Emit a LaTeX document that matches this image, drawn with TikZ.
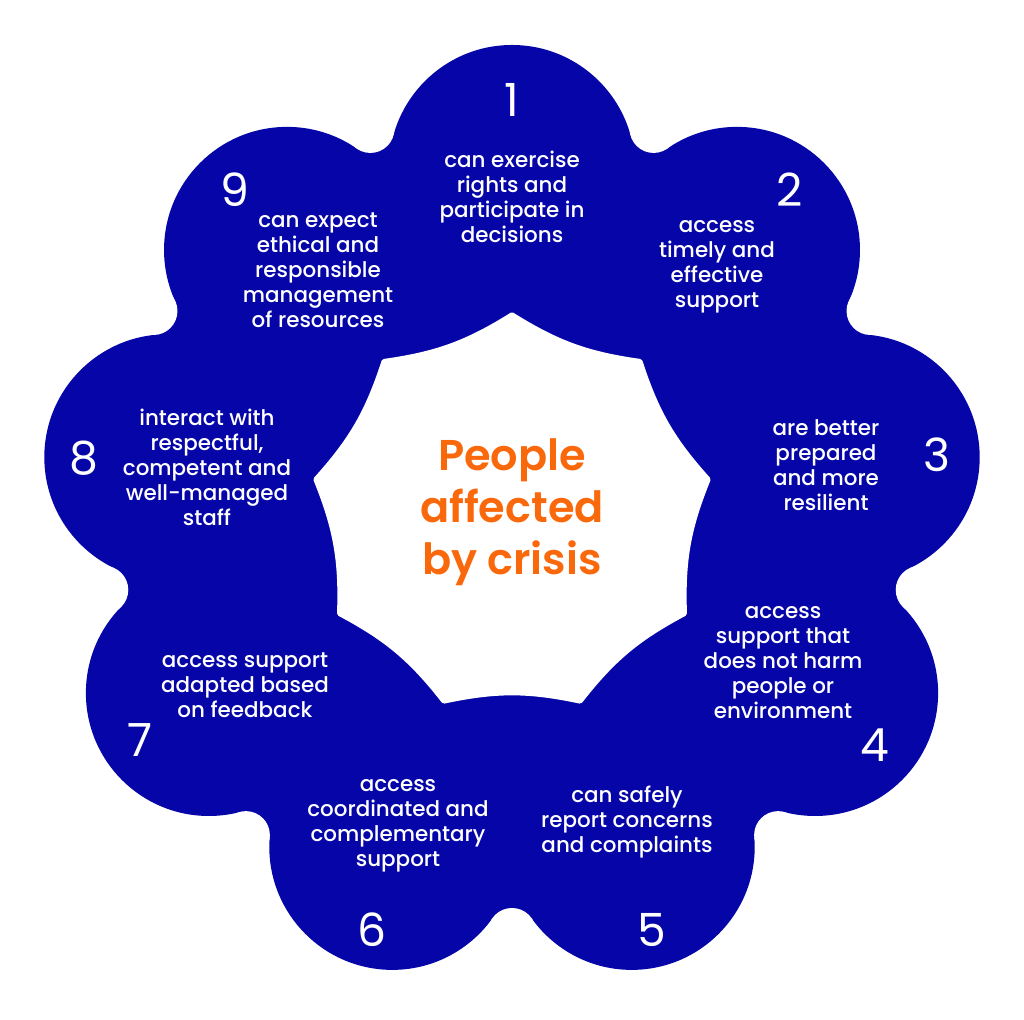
\documentclass[tikz,border=0pt]{standalone}
\usepackage{fontspec}
\setmainfont{Poppins}
\IfFontExistsTF{Poppins Medium}
  {\newfontfamily\petalfont{Poppins Medium}}
  {\newfontfamily\petalfont{Poppins}[FakeBold=0.4]}
\IfFontExistsTF{Poppins SemiBold}
  {\newfontfamily\centrefont{Poppins SemiBold}}
  {\newfontfamily\centrefont{Poppins Bold}}
\usetikzlibrary{positioning}
\definecolor{flowerblue}{RGB}{6,6,168}
\definecolor{crisisorange}{RGB}{250,104,12}

\begin{document}
\begin{tikzpicture}[x=0.02cm,y=0.02cm,
  petaltext/.style={align=center,text=white,inner sep=0,font=\petalfont\fontsize{12.2}{14.2}\selectfont},
  petalnum/.style={text=white,inner sep=0,font=\fontsize{26}{26}\selectfont},
  centertext/.style={align=center,text=crisisorange,inner sep=0,font=\centrefont\fontsize{24.5}{29.5}\selectfont}]
\useasboundingbox (0,0) rectangle (1024,1020);

% Petals
\begin{scope}[shift={(512,502)}]
\fill[flowerblue] (0,0) circle (350);
\foreach \a in {90,50,...,-230}
  \fill[flowerblue] (\a:350) circle (123);
% Fill the notches between petals
\foreach \a in {70,30,...,-250}
  \fill[flowerblue] ({\a+20}:350) -- ({\a-20}:350) -- (\a:414) -- cycle;
\foreach \a in {70,30,...,-250}
  \fill[white] (\a:414) circle (24);
\end{scope}

% Hole in the middle
\begin{scope}[shift={(512,506)}]
\draw[white,fill=white,line width=3pt,line join=round] (90:199)
  \foreach \a in {130,170,...,450} { to[bend left=12] (\a:199) } -- cycle;
\end{scope}

% Numbers
\node[petalnum] (n1) at (512,920) {1};
\node[petalnum] (n2) at (790,830) {2};
\node[petalnum] (n3) at (937,565) {3};
\node[petalnum] (n4) at (875,275) {4};
\node[petalnum] (n5) at (652,90) {5};
\node[petalnum] (n6) at (372,90) {6};
\node[petalnum] (n7) at (140,280) {7};
\node[petalnum] (n8) at (84,562) {8};
\node[petalnum] (n9) at (235,830) {9};

% Petal texts
\node[petaltext] (t1) at (512,823) {can exercise\\rights and\\participate in\\decisions};
\node[petaltext] (t2) at (717,753) {access\\timely and\\effective\\support};
\node[petaltext] (t3) at (826,555) {are better\\prepared\\and more\\resilient};
\node[petaltext] (t4) at (783,357) {access\\support that\\does not harm\\people or\\environment};
\node[petaltext] (t5) at (627,198) {can safely\\report concerns\\and complaints};
\node[petaltext] (t6) at (398,194) {access\\coordinated and\\complementary\\support};
\node[petaltext] (t7) at (245,335) {access support\\adapted based\\on feedback};
\node[petaltext] (t8) at (207,553) {interact with\\respectful,\\competent and\\well-managed\\staff};
\node[petaltext] (t9) at (318,750) {can expect\\ethical and\\responsible\\management\\of resources};

% Centre
\node[centertext] (people) at (512,508) {People\\affected\\by crisis};
\end{tikzpicture}
\end{document}
